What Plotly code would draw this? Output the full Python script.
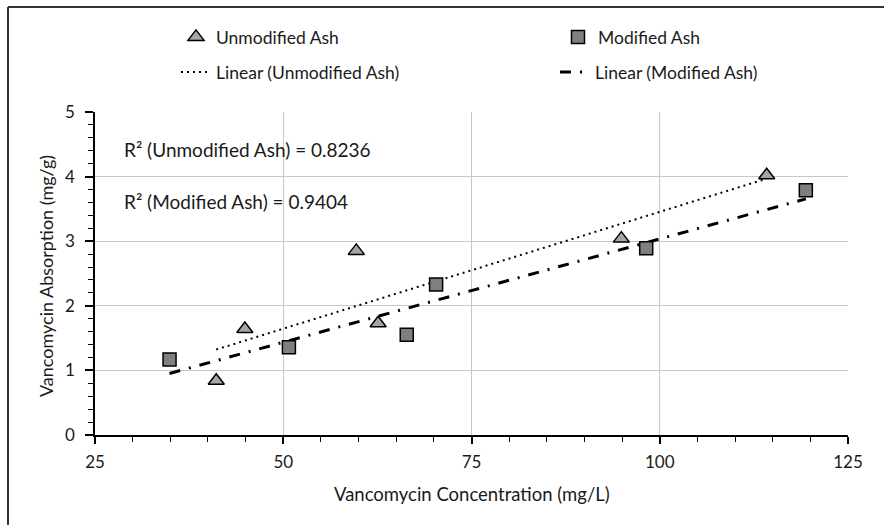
import numpy as np
import plotly.graph_objects as go

# Measured data: concentration (mg/L) vs. absorption (mg/g)
unmod_conc = [41.1, 44.9, 59.7, 62.6, 94.9, 114.2]
unmod_abs = [0.84, 1.64, 2.85, 1.73, 3.04, 4.02]
mod_conc = [34.9, 50.75, 66.4, 70.3, 98.2, 119.4]
mod_abs = [1.17, 1.36, 1.55, 2.33, 2.89, 3.79]

r2_labels = ["R\u00b2 (Unmodified Ash) = 0.8236", "R\u00b2 (Modified Ash) = 0.9404"]
x_ticks = [25, 50, 75, 100, 125]
y_ticks = [0, 1, 2, 3, 4, 5]
x_title = "Vancomycin Concentration (mg/L)"
y_title = "Vancomycin Absorption (mg/g)"

FONT = "Lato"
TXT = "#1a1a1a"

W, H = 884, 525
L, R, T, B = 95, 36, 112, 90
PW, PH = W - L - R, H - T - B


def linear_fit(xs, ys):
    xs = np.asarray(xs, float)
    ys = np.asarray(ys, float)
    slope, intercept = np.polyfit(xs, ys, 1)
    xl = np.array([xs.min(), xs.max()])
    return xl, slope * xl + intercept


ux, uy = linear_fit(unmod_conc, unmod_abs)
mx, my = linear_fit(mod_conc, mod_abs)

fig = go.Figure()

fig.add_trace(go.Scatter(
    x=ux, y=uy, mode="lines", name="Linear (Unmodified Ash)",
    line=dict(color="black", width=2, dash="2px,4px"), legend="legend3",
))
fig.add_trace(go.Scatter(
    x=mx, y=my, mode="lines", name="Linear (Modified Ash)",
    line=dict(color="black", width=3, dash="11px,9px,2px,9px"), legend="legend4",
))
fig.add_trace(go.Scatter(
    x=unmod_conc, y=unmod_abs, mode="markers", name="Unmodified Ash",
    marker=dict(symbol="triangle-up", size=14, color="#a6a6a6",
                line=dict(color="black", width=1.5)),
    legend="legend",
))
fig.add_trace(go.Scatter(
    x=mod_conc, y=mod_abs, mode="markers", name="Modified Ash",
    marker=dict(symbol="square", size=13, color="#7f7f7f",
                line=dict(color="black", width=1.5)),
    legend="legend2",
))

# R-squared labels inside the plot area
for txt, ypx in zip(r2_labels, [149, 201.5]):
    fig.add_annotation(
        text=txt, xref="paper", yref="paper", x=0.036, y=1 - (ypx - T) / PH,
        xanchor="left", yanchor="middle", showarrow=False,
        font=dict(family=FONT, size=19, color=TXT),
    )

# axis titles
fig.add_annotation(
    text=x_title, xref="paper", yref="paper", x=0.5, y=-(494 - (H - B)) / PH,
    xanchor="center", yanchor="middle", showarrow=False,
    font=dict(family=FONT, size=18.5, color=TXT),
)
fig.add_annotation(
    text=y_title, xref="paper", yref="paper", x=-(L - 46) / PW,
    y=1 - (276 - T) / PH, textangle=-90,
    xanchor="center", yanchor="middle", showarrow=False,
    font=dict(family=FONT, size=18, color=TXT),
)


def legend_at(xpx, ypx):
    return dict(
        x=xpx / W, y=1 - ypx / H, xref="container", yref="container",
        xanchor="left", yanchor="middle", orientation="v",
        font=dict(family=FONT, size=17.5, color=TXT), bgcolor="rgba(0,0,0,0)",
        borderwidth=0,
    )


fig.update_layout(
    width=W, height=H,
    margin=dict(l=L, r=R, t=T, b=B, autoexpand=False),
    paper_bgcolor="white", plot_bgcolor="white",
    font=dict(family=FONT, size=17, color=TXT),
    showlegend=True,
    legend=legend_at(176, 37),
    legend2=legend_at(558, 37),
    legend3=legend_at(176, 72),
    legend4=legend_at(555, 72),
    xaxis=dict(
        range=[25, 125], tickvals=x_ticks, ticktext=[str(v) for v in x_ticks],
        showline=True, linecolor="black", linewidth=1.5,
        ticks="outside", ticklen=7, tickcolor="black", tickwidth=1.5,
        minor=dict(dtick=5, ticks="outside", ticklen=5, tickcolor="black",
                   tickwidth=1.2, showgrid=False),
        showgrid=True, gridcolor="#c8c8c8", gridwidth=1.3, zeroline=False,
        ticklabelstandoff=4, automargin=False,
        tickfont=dict(family=FONT, size=17, color=TXT),
    ),
    yaxis=dict(
        range=[0, 5], tickvals=y_ticks, ticktext=[str(v) for v in y_ticks],
        showline=True, linecolor="black", linewidth=1.5,
        ticks="outside", ticklen=8, tickcolor="black", tickwidth=1.5,
        minor=dict(dtick=0.2, ticks="outside", ticklen=5, tickcolor="black",
                   tickwidth=1.2, showgrid=False),
        showgrid=True, gridcolor="#c8c8c8", gridwidth=1.3, zeroline=False,
        ticklabelstandoff=7, automargin=False,
        tickfont=dict(family=FONT, size=17, color=TXT),
    ),
    # chart frame: top and left edges
    shapes=[
        dict(type="line", xref="paper", yref="paper", x0=-87 / PW, x1=2,
             y0=1 + (T - 7) / PH, y1=1 + (T - 7) / PH,
             line=dict(color="#333", width=2)),
        dict(type="line", xref="paper", yref="paper", x0=-87 / PW, x1=-87 / PW,
             y0=-2, y1=1 + (T - 7) / PH, line=dict(color="#333", width=2)),
    ],
)

fig.write_html("out.html")
